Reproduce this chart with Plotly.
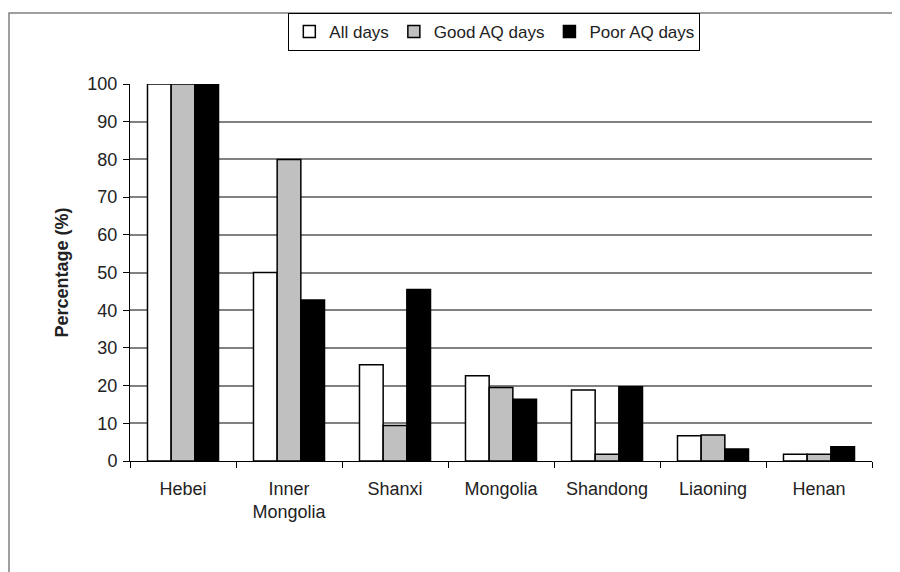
import plotly.graph_objects as go

# --- DATA ---
provinces = ["Hebei", "Inner<br>Mongolia", "Shanxi", "Mongolia", "Shandong", "Liaoning", "Henan"]
all_days = [100, 50, 25.5, 22.6, 18.8, 6.7, 1.8]
good_days = [100, 80, 9.4, 19.5, 1.8, 6.9, 1.8]
poor_days = [100, 42.7, 45.5, 16.4, 19.7, 3.2, 3.8]

series = [
    ("All days", all_days, "#ffffff"),
    ("Good AQ days", good_days, "#c0c0c0"),
    ("Poor AQ days", poor_days, "#000000"),
]

FONT = "Liberation Sans, Arial, sans-serif"
PLOT_H = 377  # px height of plot area

fig = go.Figure()
for name, vals, col in series:
    fig.add_trace(
        go.Bar(
            x=provinces,
            y=vals,
            name=name,
            marker=dict(color=col, line=dict(color="#000000", width=1.5)),
        )
    )

fig.update_layout(
    width=892,
    height=564,
    paper_bgcolor="#ffffff",
    plot_bgcolor="#ffffff",
    font=dict(family=FONT, size=18, color="#222222"),
    barmode="group",
    bargap=0.33,
    bargroupgap=0,
    margin=dict(l=122, r=28, t=76, b=111, autoexpand=False),
    showlegend=True,
    legend=dict(
        orientation="h",
        x=0.491,
        xanchor="center",
        y=1.0 + 71 / PLOT_H,
        yanchor="top",
        bordercolor="#000000",
        borderwidth=1,
        font=dict(size=17),
        itemwidth=30,
        tracegroupgap=0,
    ),
    xaxis=dict(
        showline=True,
        linecolor="#000000",
        linewidth=1,
        ticks="outside",
        tickson="boundaries",
        ticklen=6,
        tickcolor="#000000",
        ticklabelstandoff=11,
        showgrid=False,
        fixedrange=True,
    ),
    yaxis=dict(
        range=[0, 100],
        dtick=10,
        showline=True,
        linecolor="#000000",
        linewidth=1,
        ticks="outside",
        ticklen=6,
        tickcolor="#000000",
        ticklabelstandoff=2,
        showgrid=True,
        gridcolor="#808080",
        gridwidth=1.5,
        zeroline=False,
        title=dict(text="<b>Percentage (%)</b>", font=dict(size=18), standoff=14),
    ),
    shapes=[
        dict(
            type="rect",
            xref="paper",
            yref="paper",
            x0=-121 / 742,
            x1=1.2,
            y0=-0.5,
            y1=1.0 + 71 / PLOT_H,
            line=dict(color="#808080", width=1.5),
            fillcolor="rgba(0,0,0,0)",
            layer="below",
        )
    ],
)

fig.write_html("out.html")
